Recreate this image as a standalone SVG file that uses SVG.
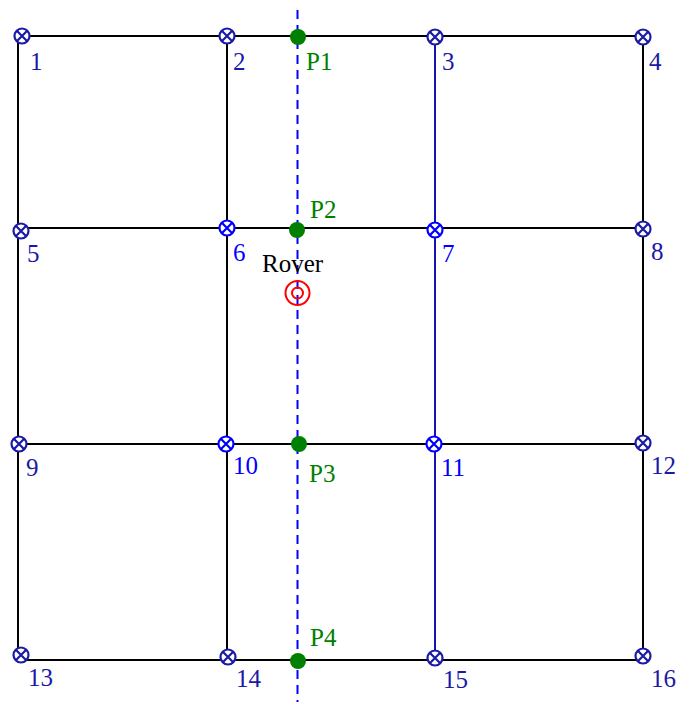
<svg xmlns="http://www.w3.org/2000/svg" width="676" height="702" viewBox="0 0 676 702">
<defs>
<style>
.edge{stroke:#000;stroke-width:2;fill:none}
.edgeb{stroke:#1414b4;stroke-width:2;fill:none}
.dash{stroke:#0000ff;stroke-width:2;stroke-dasharray:9 6;fill:none}
.nd{fill:#fff;stroke-width:2.2}
.navy{stroke:#1a1aa6}
.blue{stroke:#0000ff}
text{font-family:"Liberation Serif","Times New Roman","DejaVu Serif",serif;font-size:25px}
.tn{fill:#1a1aa6}
.tb{fill:#0000ff}
.tg{fill:#008000}
.pt{fill:#008000}
</style>
<g id="sym">
<circle cx="0" cy="0" r="7.5" class="nd"/>
<path d="M-5.2,-5.2L5.2,5.2M-5.2,5.2L5.2,-5.2" stroke-width="2.2"/>
</g>
</defs>
<g id="connectors">
<line class="edge" x1="22" y1="36" x2="643" y2="36"/>
<line class="edge" x1="18" y1="228" x2="643" y2="228"/>
<line class="edge" x1="18" y1="444" x2="643" y2="444"/>
<line class="edge" x1="18" y1="660" x2="643" y2="660"/>
<line class="edge" x1="18" y1="36" x2="18" y2="660"/>
<line class="edge" x1="227" y1="36" x2="227" y2="660"/>
<line class="edgeb" x1="435" y1="36" x2="435" y2="660"/>
<line class="edge" x1="643" y1="36" x2="643" y2="660"/>
<line class="dash" x1="297.5" y1="10" x2="297.5" y2="702"/>
</g>
<g id="n1"><use href="#sym" x="22" y="36" class="navy"/><text class="tn" x="30" y="70" font-family="Liberation Serif, serif">1</text></g>
<g id="n2"><use href="#sym" x="227" y="36" class="navy"/><text class="tn" x="233" y="70" font-family="Liberation Serif, serif">2</text></g>
<g id="n3"><use href="#sym" x="435" y="37" class="navy"/><text class="tn" x="442" y="70" font-family="Liberation Serif, serif">3</text></g>
<g id="n4"><use href="#sym" x="643" y="37" class="navy"/><text class="tn" x="649" y="70" font-family="Liberation Serif, serif">4</text></g>
<g id="n5"><use href="#sym" x="21" y="231" class="navy"/><text class="tn" x="27" y="262" font-family="Liberation Serif, serif">5</text></g>
<g id="n6"><use href="#sym" x="227" y="228" class="blue"/><text class="tb" x="233" y="261" font-family="Liberation Serif, serif">6</text></g>
<g id="n7"><use href="#sym" x="435" y="230" class="blue"/><text class="tb" x="442" y="262" font-family="Liberation Serif, serif">7</text></g>
<g id="n8"><use href="#sym" x="643" y="229" class="navy"/><text class="tn" x="651" y="260" font-family="Liberation Serif, serif">8</text></g>
<g id="n9"><use href="#sym" x="19" y="444" class="navy"/><text class="tn" x="26" y="476" font-family="Liberation Serif, serif">9</text></g>
<g id="n10"><use href="#sym" x="226" y="444" class="blue"/><text class="tb" x="233" y="474" font-family="Liberation Serif, serif">10</text></g>
<g id="n11"><use href="#sym" x="434" y="444" class="blue"/><text class="tb" x="441" y="476" font-family="Liberation Serif, serif">11</text></g>
<g id="n12"><use href="#sym" x="643" y="443" class="navy"/><text class="tn" x="651" y="474" font-family="Liberation Serif, serif">12</text></g>
<g id="n13"><use href="#sym" x="21" y="655" class="navy"/><text class="tn" x="28" y="686" font-family="Liberation Serif, serif">13</text></g>
<g id="n14"><use href="#sym" x="228" y="657" class="navy"/><text class="tn" x="236" y="687" font-family="Liberation Serif, serif">14</text></g>
<g id="n15"><use href="#sym" x="435" y="658" class="navy"/><text class="tn" x="443" y="688" font-family="Liberation Serif, serif">15</text></g>
<g id="n16"><use href="#sym" x="643" y="656" class="navy"/><text class="tn" x="651" y="687" font-family="Liberation Serif, serif">16</text></g>
<g id="P1"><circle cx="298" cy="37" r="8" class="pt"/><text class="tg" x="306" y="70" font-family="Liberation Serif, serif">P1</text></g>
<g id="P2"><circle cx="297" cy="230" r="8" class="pt"/><text class="tg" x="310" y="218" font-family="Liberation Serif, serif">P2</text></g>
<g id="P3"><circle cx="299" cy="444" r="8" class="pt"/><text class="tg" x="309" y="482" font-family="Liberation Serif, serif">P3</text></g>
<g id="P4"><circle cx="298" cy="661" r="8" class="pt"/><text class="tg" x="310" y="646" font-family="Liberation Serif, serif">P4</text></g>
<g id="rover">
<circle cx="297.5" cy="293" r="12" fill="none" stroke="#ff0000" stroke-width="2"/>
<circle cx="297.5" cy="293" r="5.5" fill="none" stroke="#ff0000" stroke-width="2"/>
<text x="262" y="272" fill="#000" font-family="Liberation Serif, serif">Rover</text>
</g>
</svg>
